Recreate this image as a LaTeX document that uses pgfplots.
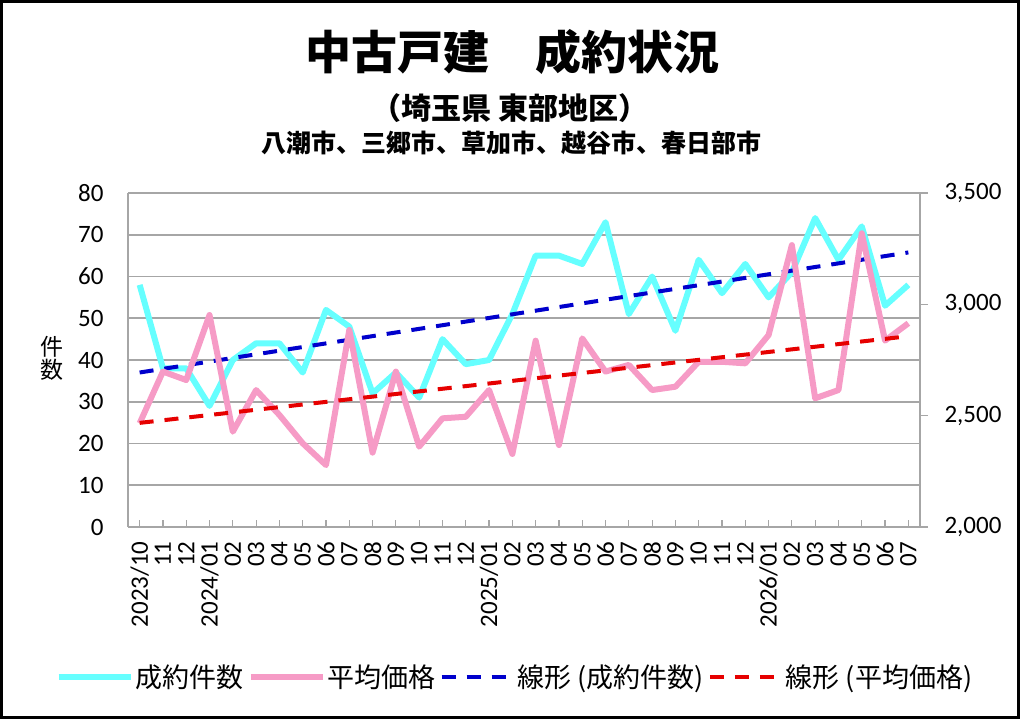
\documentclass[border=0pt]{standalone}
\usepackage{fontspec}
\setmainfont{Carlito}
\newfontfamily\cjk{Noto Sans CJK JP}
\usepackage{pgfplots}
\usepackage{pgfplotstable}
\pgfplotsset{compat=1.18}
\definecolor{cntc}{RGB}{102,255,255}
\definecolor{prcc}{RGB}{246,155,198}
\definecolor{tblue}{RGB}{0,0,204}
\definecolor{tred}{RGB}{230,0,0}
\definecolor{gridc}{RGB}{166,166,166}

\pgfplotstableread{
x cnt price
0 58 2466
1 38 2698
2 38 2660
3 29 2952
4 40 2428
5 44 2615
6 44 2503
7 37 2376
8 52 2278
9 48 2885
10 32 2334
11 37 2698
12 31 2361
13 45 2488
14 39 2495
15 40 2615
16 51 2328
17 65 2837
18 65 2368
19 63 2847
20 73 2698
21 51 2728
22 60 2615
23 47 2630
24 64 2742
25 56 2742
26 63 2735
27 55 2862
28 61 3266
29 74 2578
30 64 2615
31 72 3319
32 53 2837
33 58 2915
}\data

\pgfplotsset{
  common/.style={
    at={(128bp,192bp)}, anchor=south west,
    scale only axis, width=792bp, height=334bp,
    xmin=-0.5, xmax=33.5,
    /pgf/number format/assume math mode=true,
    tick label style={font=\fontsize{25bp}{25bp}\selectfont, black},
    axis line style={draw=gridc, line width=1.8bp},
  },
  legend image code/.code={\draw[#1] (0bp,0bp) -- (72bp,0bp);},
}

\begin{document}
\begin{tikzpicture}
\useasboundingbox (0bp,0bp) rectangle (1024bp,719bp);
\draw[line width=3bp] (1.5bp,1.5bp) rectangle (1018.5bp,717.5bp);
\node[font=\cjk\bfseries\fontsize{46bp}{50bp}\selectfont] at (512bp,667bp) {中古戸建　成約状況};
\node[font=\cjk\bfseries\fontsize{30bp}{33bp}\selectfont] at (510bp,611bp) {（埼玉県 東部地区）};
\node[font=\cjk\bfseries\fontsize{25bp}{28bp}\selectfont] at (511bp,576bp) {八潮市、三郷市、草加市、越谷市、春日部市};

\begin{axis}[common,
  ymin=0, ymax=80, ytick={0,10,...,80},
  axis x line*=bottom, axis y line*=left,
  ymajorgrids, major grid style={draw=gridc, line width=1.8bp},
  ytick style={draw=none},
  xtick=data,
  xtick style={draw=gridc, line width=1.2bp},
  tick align=inside, major tick length=7bp,
  xticklabels={2023/10,11,12,2024/01,02,03,04,05,06,07,08,09,10,11,12,2025/01,02,03,04,05,06,07,08,09,10,11,12,2026/01,02,03,04,05,06,07},
  xticklabel style={rotate=90, anchor=east, xshift=-11bp},
  yticklabel style={xshift=-21bp},
  ylabel={件\\数},
  ylabel style={rotate=-90, align=center, font=\cjk\fontsize{23bp}{23bp}\selectfont, at={(axis description cs:-0.096,0.506)}, anchor=center},
]
\addplot[cntc, line width=6bp, line join=round] table[x=x, y=cnt] {\data};
\addplot[tblue, line width=4bp, dash pattern=on 14bp off 11bp] table[x=x, y={create col/linear regression={y=cnt}}] {\data};
\end{axis}

\begin{axis}[common,
  ymin=2000, ymax=3500, ytick={2000,2500,3000,3500},
  axis y line*=right, axis x line=none,
  tick align=outside, major tick length=8bp,
  ytick style={draw=gridc, line width=1.5bp},
  /pgf/number format/1000 sep={,},
  yticklabel style={xshift=13bp},
  legend style={at={(axis description cs:0.4886,-0.449)}, anchor=center, draw=none, fill=none,
    legend columns=4, font=\cjk\fontsize{27bp}{30bp}\selectfont,
    /tikz/every even column/.append style={column sep=2bp}},
]
\addlegendimage{cntc, line width=6bp}
\addlegendentry{成約件数}
\addplot[prcc, line width=6bp, line join=round] table[x=x, y=price] {\data};
\addlegendentry{平均価格}
\addlegendimage{tblue, line width=4bp, dash pattern=on 14bp off 11bp}
\addlegendentry{線形 (成約件数)}
\addplot[tred, line width=4bp, dash pattern=on 14bp off 11bp] table[x=x, y={create col/linear regression={y=price}}] {\data};
\addlegendentry{線形 (平均価格)}
\end{axis}
\end{tikzpicture}
\end{document}
